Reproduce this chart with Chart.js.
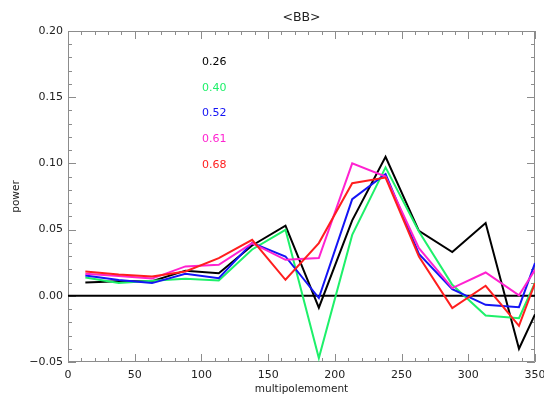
<!DOCTYPE html>
<html>
<head>
<meta charset="utf-8">
<script src="https://cdn.jsdelivr.net/npm/chart.js@4/dist/chart.umd.min.js"></script>
<style>
html,body{margin:0;padding:0;background:#fff;}
#wrap{width:544px;height:398px;}
</style>
</head>
<body>
<div id="wrap"><canvas id="c" width="544" height="398"></canvas></div>
<script>
// ---- data ----
const multipole = [13, 38, 63, 88, 113, 138, 163, 188, 213, 238, 263, 288, 313, 338, 350];
const seriesLabels = ['0.26', '0.40', '0.52', '0.61', '0.68'];
const power026 = [0.010, 0.011, 0.011, 0.019, 0.017, 0.038, 0.053, -0.009, 0.057, 0.105, 0.049, 0.033, 0.055, -0.040, -0.014];
const power040 = [0.0138, 0.0096, 0.0113, 0.0128, 0.0116, 0.035, 0.0498, -0.047, 0.046, 0.097, 0.0486, 0.0083, -0.0149, -0.0169, 0.010];
const power052 = [0.0153, 0.012, 0.0096, 0.0166, 0.0133, 0.040, 0.0297, -0.0017, 0.073, 0.092, 0.0317, 0.005, -0.0068, -0.0086, 0.0247];
const power061 = [0.0166, 0.015, 0.013, 0.0222, 0.0234, 0.0398, 0.0272, 0.0285, 0.100, 0.090, 0.036, 0.0058, 0.0176, 0.0003, 0.0196];
const power068 = [0.0184, 0.016, 0.0146, 0.0184, 0.0285, 0.0423, 0.0121, 0.0398, 0.085, 0.0893, 0.0297, -0.0093, 0.0076, -0.0227, 0.0096];
const xMin = 0, xMax = 350, xMajor = 50, xMinor = 10;
const yMin = -0.05, yMax = 0.20, yMajor = 0.05, yMinor = 0.01;
const chartTitle = '<BB>';
const xTitle = 'multipolemoment';
const yTitle = 'power';

const seriesValues = [power026, power040, power052, power061, power068];
const seriesColors = ['#000000', '#1ef06a', '#1414f5', '#ff22d0', '#ff1e1e'];

const FONT = "'DejaVu Sans', 'Liberation Sans', sans-serif";

const datasets = seriesValues.map((vals, i) => ({
  label: seriesLabels[i],
  data: multipole.map((x, k) => ({x: x, y: vals[k]})),
  borderColor: seriesColors[i],
  backgroundColor: seriesColors[i],
  borderWidth: 2,
  pointRadius: 0,
  tension: 0,
  fill: false,
  order: seriesValues.length - i
}));
datasets.push({
  label: 'zero',
  data: [{x: xMin, y: 0}, {x: xMax, y: 0}],
  borderColor: '#000000',
  borderWidth: 2,
  pointRadius: 0,
  fill: false,
  order: 10
});

function drawFrame(chart) {
  const ctx = chart.ctx;
  const a = chart.chartArea;
  const xs = chart.scales.x, ys = chart.scales.y;
  ctx.save();
  ctx.strokeStyle = '#8c8c8c';
  ctx.lineWidth = 1;
  ctx.beginPath();
  ctx.rect(a.left + 0.5, a.top + 0.5, a.right - a.left - 1, a.bottom - a.top - 1);
  const nX = Math.round((xMax - xMin) / xMinor);
  for (let k = 0; k <= nX; k++) {
    const v = xMin + k * xMinor;
    const px = Math.round(xs.getPixelForValue(v)) + 0.5;
    const len = (k % Math.round(xMajor / xMinor) === 0) ? 8 : 4;
    ctx.moveTo(px, a.bottom);
    ctx.lineTo(px, a.bottom - len);
    ctx.moveTo(px, a.top);
    ctx.lineTo(px, a.top + len);
  }
  const nY = Math.round((yMax - yMin) / yMinor);
  for (let k = 0; k <= nY; k++) {
    const v = yMin + k * yMinor;
    const py = Math.round(ys.getPixelForValue(v)) + 0.5;
    const len = (k % Math.round(yMajor / yMinor) === 0) ? 8 : 4;
    ctx.moveTo(a.left, py);
    ctx.lineTo(a.left + len, py);
    ctx.moveTo(a.right, py);
    ctx.lineTo(a.right - len, py);
  }
  ctx.stroke();
  ctx.restore();
}

const framePlugin = {
  id: 'frame',
  beforeDatasetsDraw(chart) { drawFrame(chart); },
  afterDraw(chart) {
    const ctx = chart.ctx;
    const a = chart.chartArea;
    ctx.save();
    ctx.fillStyle = '#222';
    ctx.font = '12.5px ' + FONT;
    ctx.textAlign = 'center';
    ctx.textBaseline = 'middle';
    ctx.fillText(chartTitle, (a.left + a.right) / 2, a.top - 13);
    ctx.font = '11px ' + FONT;
    ctx.textAlign = 'left';
    seriesLabels.forEach((lab, i) => {
      ctx.fillStyle = seriesColors[i];
      ctx.fillText(lab, a.left + 134, a.top + 31 + i * 25.8);
    });
    ctx.restore();
  }
};

new Chart(document.getElementById('c'), {
  type: 'line',
  data: {datasets: datasets},
  options: {
    responsive: false,
    animation: false,
    devicePixelRatio: 1,
    layout: {padding: {top: 31, left: 0, right: 9, bottom: 0}},
    plugins: {legend: {display: false}, tooltip: {enabled: false}, title: {display: false}},
    scales: {
      x: {
        type: 'linear',
        min: xMin, max: xMax,
        grid: {display: false, drawTicks: false},
        border: {display: false},
        ticks: {
          stepSize: xMajor, maxRotation: 0, autoSkip: false, padding: 7,
          color: '#222', font: {family: FONT, size: 11}
        },
        title: {display: true, text: xTitle, color: '#222', font: {family: FONT, size: 10.5}, padding: {top: 0, bottom: 2}},
        afterFit(s) { s.height = 36; s.paddingLeft = 0; s.paddingRight = 0; }
      },
      y: {
        type: 'linear',
        min: yMin, max: yMax,
        grid: {display: false, drawTicks: false},
        border: {display: false},
        ticks: {
          stepSize: yMajor, padding: 5, color: '#222', font: {family: FONT, size: 11},
          callback: v => (v < -1e-9 ? '\u2212' : '') + Math.abs(v).toFixed(2)
        },
        title: {display: true, text: yTitle, color: '#222', font: {family: FONT, size: 10.5}, padding: {top: 10, bottom: 0}},
        afterFit(s) { s.width = 68; s.paddingTop = 0; s.paddingBottom = 0; }
      }
    }
  },
  plugins: [framePlugin]
});
</script>
</body>
</html>
